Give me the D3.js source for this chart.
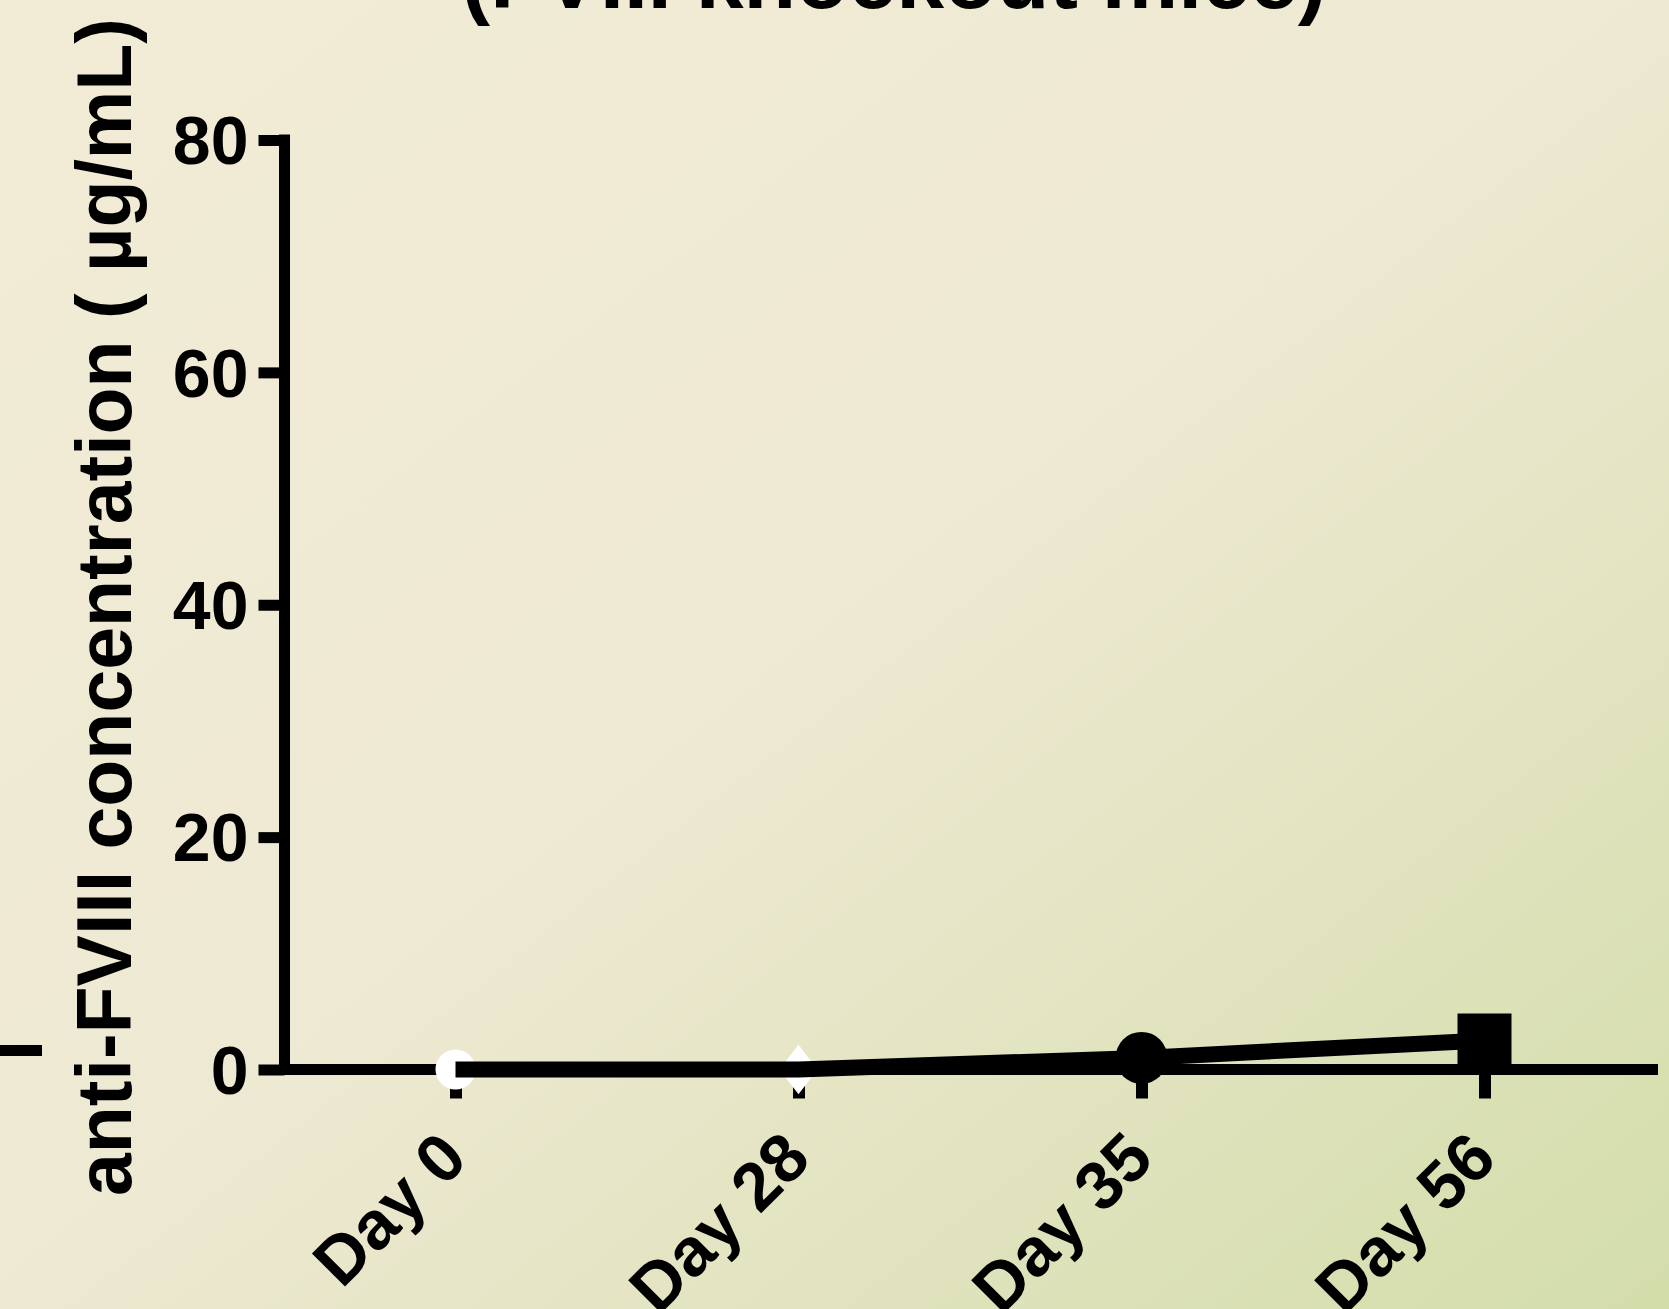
<!DOCTYPE html>
<html>
<head>
<meta charset="utf-8">
<script src="https://cdn.jsdelivr.net/npm/d3@7"></script>
<style>
  html, body { margin: 0; padding: 0; overflow: hidden; }
  svg { display: block; }
  text { font-family: "Liberation Sans", Arial, sans-serif; font-weight: bold; fill: #000; }
</style>
</head>
<body>
<svg id="chart" width="1669" height="1309"></svg>
<script>
// Sampling days and mean anti-FVIII antibody level at each one
const days = ["Day 0", "Day 28", "Day 35", "Day 56"];
const concentration = [0, 0, 1.0, 2.5];
const yTicks = [0, 20, 40, 60, 80];
const yLabel = "anti-FVIII concentration ( \u00b5g/mL)";
const title = "(FVIII knockout mice)";

const W = 1669, H = 1309;
const svg = d3.select("#chart");

// diagonal cream-to-sage background
const defs = svg.append("defs");
const grad = defs.append("linearGradient")
  .attr("id", "bg").attr("x1", "0").attr("y1", "0").attr("x2", "1").attr("y2", "1");
grad.append("stop").attr("offset", "0%").attr("stop-color", "#f2ecd7");
grad.append("stop").attr("offset", "50%").attr("stop-color", "#eee9d2");
grad.append("stop").attr("offset", "100%").attr("stop-color", "#d3ddaa");
svg.append("rect").attr("width", W).attr("height", H).attr("fill", "url(#bg)");

const x = d3.scalePoint().domain(days).range([284, 1656]).padding(0.5);
const y = d3.scaleLinear().domain([0, 80]).range([1069.5, 140]);

const AXIS_W = 11;

// title (first line sits above the frame)
svg.append("text")
  .attr("x", 894).attr("y", 8)
  .attr("text-anchor", "middle")
  .style("font-size", "86px")
  .text(title);

// y axis title
svg.append("text")
  .attr("transform", "translate(131,607) rotate(-90)")
  .attr("text-anchor", "middle")
  .style("font-size", "77px")
  .text(yLabel);

// stray tick at the left edge
svg.append("line")
  .attr("x1", 0).attr("x2", 42).attr("y1", 1050.5).attr("y2", 1050.5)
  .attr("stroke", "#000").attr("stroke-width", AXIS_W);

// y axis
const yAxis = d3.axisLeft(y).tickValues(yTicks).tickSize(26).tickPadding(10).tickSizeOuter(0);
const gy = svg.append("g").attr("transform", "translate(284.5,0)").call(yAxis);
gy.select(".domain").attr("stroke", "#000").attr("stroke-width", AXIS_W)
  .attr("d", `M0,${y(80) - AXIS_W / 2}V${y(0) + AXIS_W / 2}`);
gy.selectAll(".tick line").attr("stroke", "#000").attr("stroke-width", AXIS_W);
gy.selectAll(".tick text")
  .attr("x", -36)
  .attr("dy", "0.35em")
  .style("font-size", "68px")
  .style("font-family", "'Liberation Sans', Arial, sans-serif")
  .style("font-weight", "bold")
  .attr("fill", "#000");

// x axis
const xAxis = d3.axisBottom(x).tickSize(29).tickSizeOuter(0).tickPadding(0);
const gx = svg.append("g").attr("transform", `translate(0,${y(0)})`).call(xAxis);
gx.select(".domain").attr("stroke", "#000").attr("stroke-width", AXIS_W)
  .attr("d", `M${284.5 - AXIS_W / 2},0H1658`);
gx.selectAll(".tick line").attr("stroke", "#000").attr("stroke-width", 12);
gx.selectAll(".tick text")
  .attr("y", 0).attr("dy", 0)
  .attr("text-anchor", "end")
  .attr("transform", "translate(14,92) rotate(-45)")
  .style("font-size", "68px")
  .style("font-family", "'Liberation Sans', Arial, sans-serif")
  .style("font-weight", "bold")
  .attr("fill", "#000");

// point markers, one style per sampling day
const markerStyle = {
  "Day 0":  { type: d3.symbolCircle, area: Math.PI * 20 * 20, fill: "#ffffff", tf: "" },
  "Day 28": { type: d3.symbolSquare, area: 27 * 27, fill: "#ffffff", tf: " scale(1,1.3) rotate(45)" },
  "Day 35": { type: d3.symbolCircle, area: Math.PI * 26 * 26, fill: "#000000", tf: "" },
  "Day 56": { type: d3.symbolSquare, area: 54 * 54, fill: "#000000", tf: "" }
};
const pts = days.map((d, i) => ({ day: d, v: concentration[i] }));

svg.append("g").selectAll("path").data(pts).join("path")
  .attr("transform", d => `translate(${x(d.day)},${y(d.v)})` + markerStyle[d.day].tf)
  .attr("d", d => d3.symbol().type(markerStyle[d.day].type).size(markerStyle[d.day].area)())
  .attr("fill", d => markerStyle[d.day].fill);

// mean line drawn over the markers
svg.append("path")
  .datum(pts)
  .attr("fill", "none")
  .attr("stroke", "#000")
  .attr("stroke-width", 16)
  .attr("d", d3.line().x(d => x(d.day)).y(d => y(d.v)));
</script>
</body>
</html>
